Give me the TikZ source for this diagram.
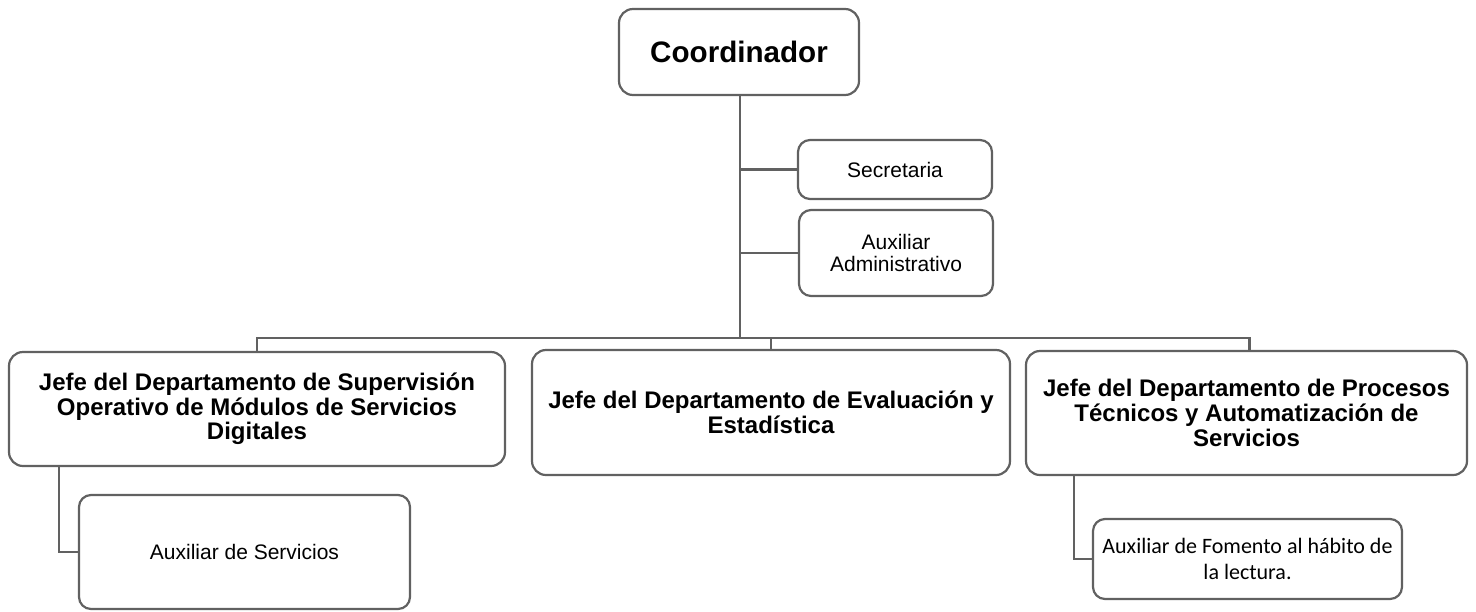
\documentclass[tikz,border=0pt]{standalone}
\usepackage{fontspec}
\setmainfont{Liberation Sans}
\newfontfamily\calfont{Carlito}
\usepackage{tikz}
\usetikzlibrary{positioning, calc}

\definecolor{ln}{rgb}{0.38, 0.38, 0.38}
\tikzset{
    box/.style={draw=ln, line width=1.1pt, rounded corners=7pt,
                align=center, inner sep=2pt},
    link/.style={draw=ln, line width=1.1pt},
    head/.style={box, font=\bfseries\fontsize{14.8}{17}\selectfont},
    dept/.style={box, font=\bfseries\fontsize{12}{12.3}\selectfont},
    staff/.style={box, rounded corners=6pt, font=\fontsize{10.5}{11}\selectfont}
}

\begin{document}
\begin{tikzpicture}[x=0.5pt, y=-0.5pt]
    \useasboundingbox (0,0) rectangle (1476,611);

    \node [head, minimum width=120pt, minimum height=43pt] (coord) at (739,52) {Coordinador};
    \node [staff, minimum width=97pt, minimum height=29.5pt] (secre) at (895,169.5) {Secretaria};
    \node [staff, minimum width=97pt, minimum height=43pt] (admin) at (896,253) {Auxiliar\\Administrativo};

    \node [dept, minimum width=248pt, minimum height=57pt] (supervision) at (257,409)
        {Jefe del Departamento de Supervisión\\Operativo de Módulos de Servicios\\Digitales};
    \node [dept, minimum width=239pt, minimum height=62.5pt] (evaluacion) at (771,412.5)
        {Jefe del Departamento de Evaluación y\\Estadística};
    \node [dept, minimum width=220.5pt, minimum height=62pt] (procesos) at (1246.5,413)
        {Jefe del Departamento de Procesos\\Técnicos y Automatización de\\Servicios};

    \node [staff, minimum width=165.5pt, minimum height=57pt] (servicios) at (244.5,552) {Auxiliar de Servicios};
    \node [staff, minimum width=154.5pt, minimum height=40pt,
           font=\calfont\fontsize{11}{13.4}\selectfont] (fomento) at (1247.5,559)
        {Auxiliar de Fomento al hábito de\\la lectura.};

    \coordinate (bus) at (740,338);

    % tronco y ramas
    \draw [link] (coord.south -| bus) -- (bus);
    \draw [link] (bus |- secre.west) -- (secre.west);
    \draw [link] (bus |- admin.west) -- (admin.west);
    \draw [link] (supervision.north) |- (bus) -| ([xshift=1.5pt]procesos.north);
    \draw [link] (evaluacion.north) -- (evaluacion.north |- bus);

    % auxiliares de los departamentos
    \draw [link] ([xshift=25.5pt]supervision.south west) |- (servicios.west);
    \draw [link] ([xshift=24.5pt]procesos.south west) |- (fomento.west);
\end{tikzpicture}
\end{document}
